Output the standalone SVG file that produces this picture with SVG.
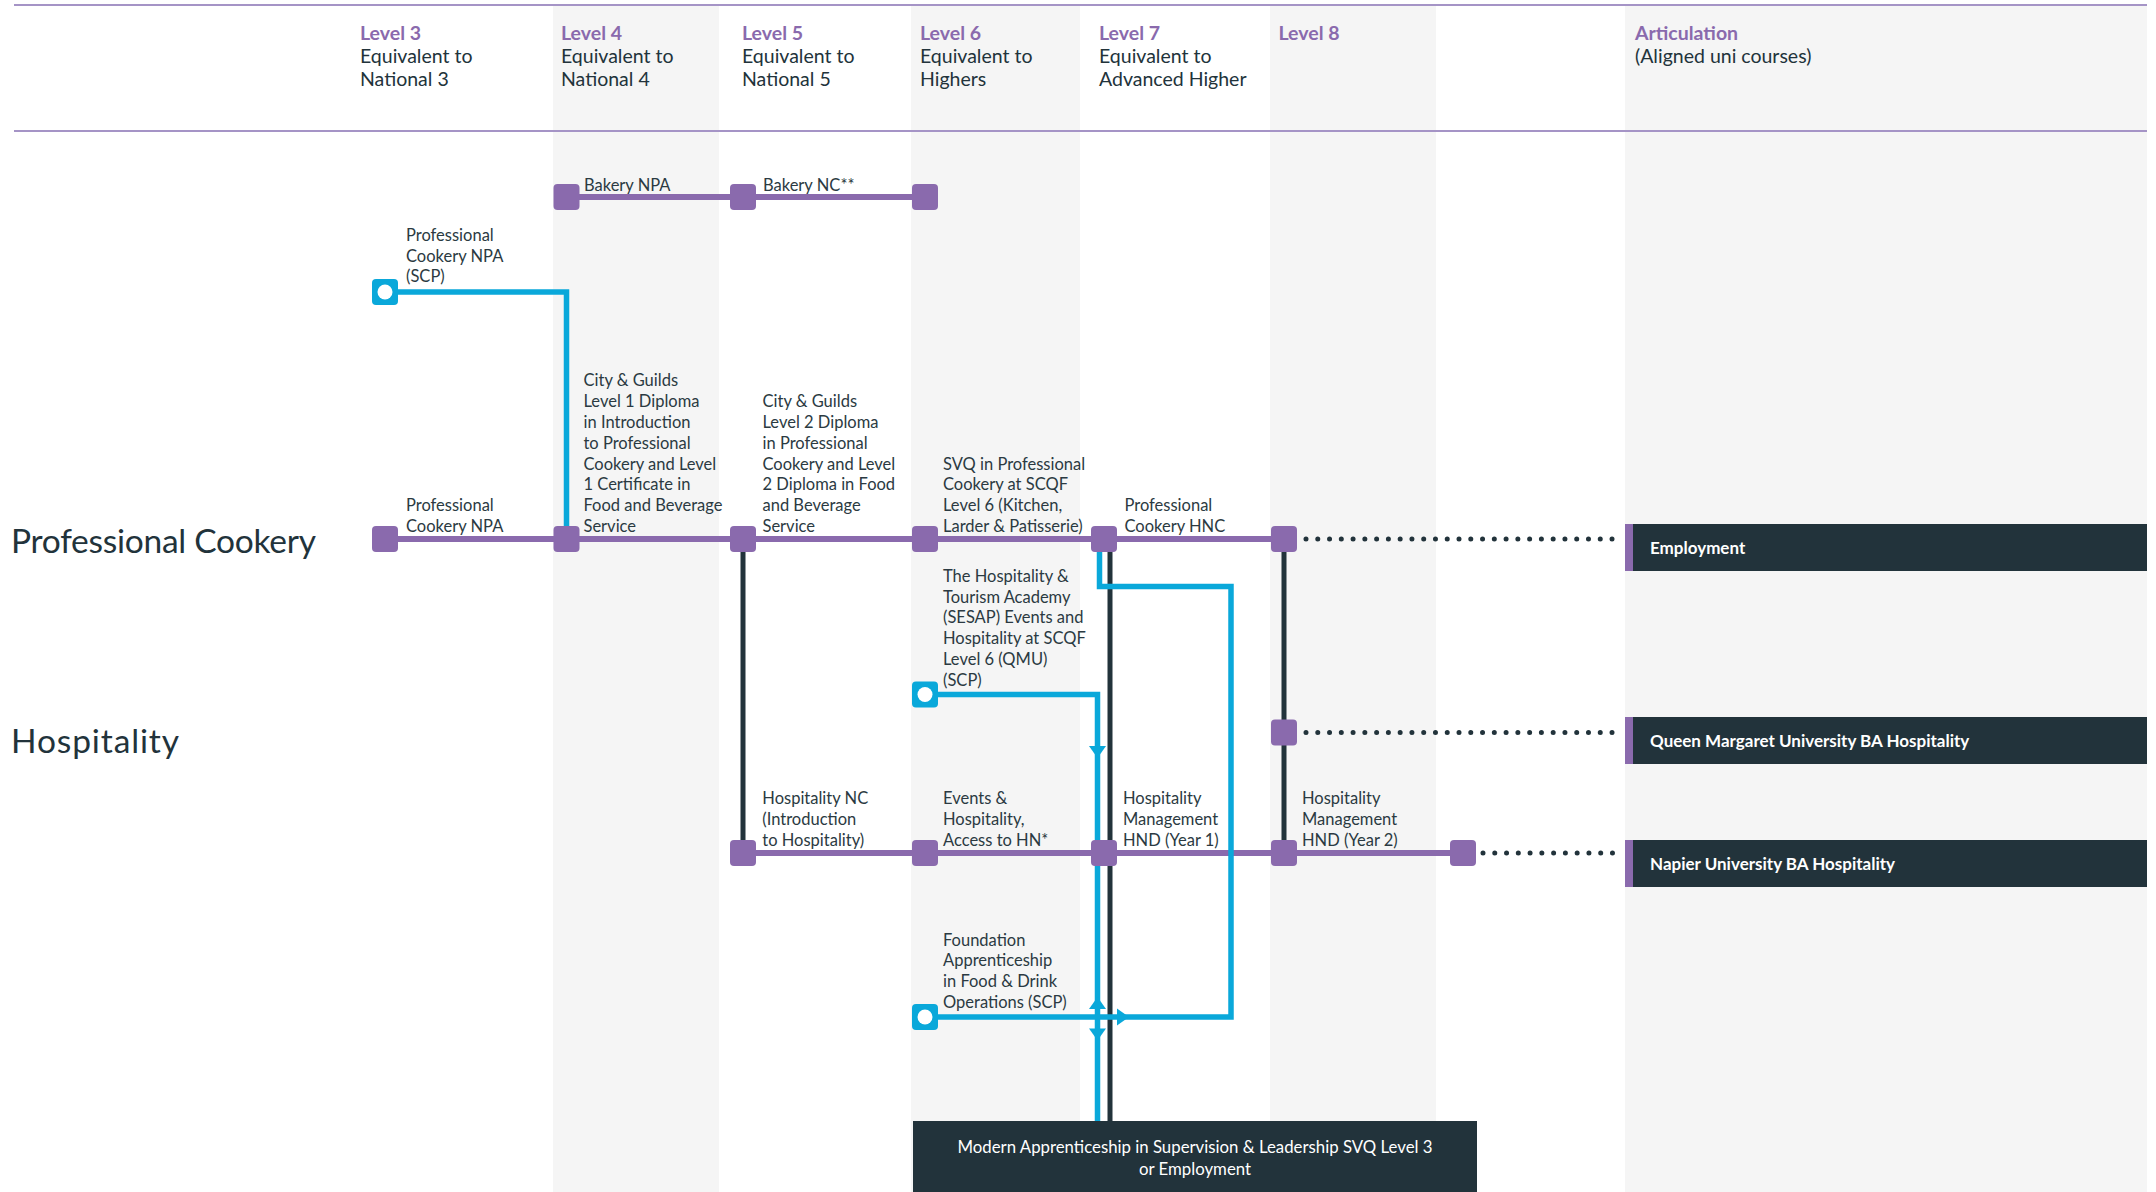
<svg xmlns="http://www.w3.org/2000/svg" xmlns:xlink="http://www.w3.org/1999/xlink" width="2156" height="1192" viewBox="0 0 2156 1192">
<style>
  text { font-family: Lato, "Liberation Sans", sans-serif; }
  .band { fill: #f5f5f5; }
  .rule { stroke: #a594c6; stroke-width: 2; fill: none; }
  .lvl { fill: #8a6aad; font-size: 19.5px; font-weight: 700; }
  .hdr { fill: #22333b; font-size: 19.5px; }
  .lbl { fill: #2b3a42; font-size: 16.5px; }
  .big { fill: #22333b; font-size: 33.5px; }
  .route { stroke: #8a6aad; stroke-width: 6; fill: none; }
  .bridge { stroke: #22333b; stroke-width: 5; fill: none; }
  .blue { stroke: #0aa8da; stroke-width: 5.5; fill: none; }
  .dots { stroke: #22333b; stroke-width: 5; stroke-linecap: round; stroke-dasharray: 0 11.77; fill: none; }
  .node { fill: #8a6aad; }
  .mk { fill: #0aa8da; }
  .hole { fill: #ffffff; }
  .box { fill: #22333b; }
  .bar { fill: #8a6aad; }
  .boxt { fill: #ffffff; font-size: 17px; font-weight: 700; }
  .mat { fill: #ffffff; font-size: 16.8px; }
  .arr { fill: #0aa8da; }
</style>
<defs>
  <rect id="n" class="node" x="-13" y="-13" width="26" height="26" rx="4"/>
  <g id="m"><rect class="mk" x="-13" y="-13" width="26" height="26" rx="4"/><circle class="hole" r="7.5"/></g>
  <path id="arrow" class="arr" d="M0,0 L-12,-8.5 L-12,8.5 Z"/>
</defs>

<rect width="2156" height="1192" fill="#ffffff"/>

<g id="bands">
  <rect class="band" x="553" y="5" width="166" height="1187"/>
  <rect class="band" x="911" y="5" width="169" height="1187"/>
  <rect class="band" x="1270" y="5" width="166" height="1187"/>
  <rect class="band" x="1625" y="5" width="522" height="1187"/>
</g>

<g id="header">
  <line class="rule" x1="14" y1="5" x2="2147" y2="5"/>
  <line class="rule" x1="14" y1="131" x2="2147" y2="131"/>
  <text class="lvl" x="360" y="39.5">Level 3</text>
  <text class="hdr" x="360" y="62.7">Equivalent to</text>
  <text class="hdr" x="360" y="85.7">National 3</text>
  <text class="lvl" x="561" y="39.5">Level 4</text>
  <text class="hdr" x="561" y="62.7">Equivalent to</text>
  <text class="hdr" x="561" y="85.7">National 4</text>
  <text class="lvl" x="742" y="39.5">Level 5</text>
  <text class="hdr" x="742" y="62.7">Equivalent to</text>
  <text class="hdr" x="742" y="85.7">National 5</text>
  <text class="lvl" x="920" y="39.5">Level 6</text>
  <text class="hdr" x="920" y="62.7">Equivalent to</text>
  <text class="hdr" x="920" y="85.7">Highers</text>
  <text class="lvl" x="1099" y="39.5">Level 7</text>
  <text class="hdr" x="1099" y="62.7">Equivalent to</text>
  <text class="hdr" x="1099" y="85.7">Advanced Higher</text>
  <text class="lvl" x="1278.5" y="39.5">Level 8</text>
  <text class="lvl" x="1635" y="39.5">Articulation</text>
  <text class="hdr" x="1635" y="62.7">(Aligned uni courses)</text>
</g>

<g id="row-labels">
  <text class="big" x="11" y="553" textLength="305">Professional Cookery</text>
  <text class="big" x="11" y="753" textLength="168">Hospitality</text>
</g>

<g id="connectors">
  <path class="bridge" d="M743,539 V853"/>
  <path class="bridge" d="M1110,539 V1121"/>
  <path class="bridge" d="M1284,539 V853"/>
  <path class="route" d="M566.5,197 H925"/>
  <path class="route" d="M385,539 H1284"/>
  <path class="route" d="M743,853 H1463"/>
  <path class="blue" d="M385,292 H566.5 V539"/>
  <path class="blue" d="M925,694.5 H1097.5 V1121"/>
  <path class="blue" d="M925,1017 H1231 V586.5 H1099.5 V539"/>
  <line class="dots" x1="1306" y1="539" x2="1612.5" y2="539"/>
  <line class="dots" x1="1306" y1="732.5" x2="1612.5" y2="732.5"/>
  <line class="dots" x1="1483" y1="853" x2="1612.5" y2="853"/>
  <use xlink:href="#arrow" transform="translate(1097.5,758) rotate(90)"/>
  <use xlink:href="#arrow" transform="translate(1097.5,997) rotate(-90)"/>
  <use xlink:href="#arrow" transform="translate(1097.5,1040.5) rotate(90)"/>
  <use xlink:href="#arrow" transform="translate(1129,1017)"/>
</g>

<g id="bakery-npa"><use xlink:href="#n" x="566.5" y="197"/><text class="lbl" x="584" y="191">Bakery NPA</text></g>
<g id="bakery-nc"><use xlink:href="#n" x="743" y="197"/><text class="lbl" x="763" y="191">Bakery NC**</text></g>
<g id="bakery-end"><use xlink:href="#n" x="925" y="197"/></g>

<g id="pc-npa-scp"><use xlink:href="#m" x="385" y="292"/>
  <text class="lbl" x="406" y="240.7">Professional</text>
  <text class="lbl" x="406" y="261.5">Cookery NPA</text>
  <text class="lbl" x="406" y="282.3">(SCP)</text>
</g>
<g id="pc-npa"><use xlink:href="#n" x="385" y="539"/>
  <text class="lbl" x="406" y="511.2">Professional</text>
  <text class="lbl" x="406" y="532">Cookery NPA</text>
</g>
<g id="cg-level1"><use xlink:href="#n" x="566.5" y="539"/>
  <text class="lbl" x="583.5" y="386.4">City &amp; Guilds</text>
  <text class="lbl" x="583.5" y="407.2">Level 1 Diploma</text>
  <text class="lbl" x="583.5" y="428">in Introduction</text>
  <text class="lbl" x="583.5" y="448.8">to Professional</text>
  <text class="lbl" x="583.5" y="469.6">Cookery and Level</text>
  <text class="lbl" x="583.5" y="490.4">1 Certificate in</text>
  <text class="lbl" x="583.5" y="511.2">Food and Beverage</text>
  <text class="lbl" x="583.5" y="532">Service</text>
</g>
<g id="cg-level2"><use xlink:href="#n" x="743" y="539"/>
  <text class="lbl" x="762.5" y="407.2">City &amp; Guilds</text>
  <text class="lbl" x="762.5" y="428">Level 2 Diploma</text>
  <text class="lbl" x="762.5" y="448.8">in Professional</text>
  <text class="lbl" x="762.5" y="469.6">Cookery and Level</text>
  <text class="lbl" x="762.5" y="490.4">2 Diploma in Food</text>
  <text class="lbl" x="762.5" y="511.2">and Beverage</text>
  <text class="lbl" x="762.5" y="532">Service</text>
</g>
<g id="svq"><use xlink:href="#n" x="925" y="539"/>
  <text class="lbl" x="943" y="469.6">SVQ in Professional</text>
  <text class="lbl" x="943" y="490.4">Cookery at SCQF</text>
  <text class="lbl" x="943" y="511.2">Level 6 (Kitchen,</text>
  <text class="lbl" x="943" y="532">Larder &amp; Patisserie)</text>
</g>
<g id="pc-hnc"><use xlink:href="#n" x="1104" y="539"/>
  <text class="lbl" x="1124.5" y="511.2">Professional</text>
  <text class="lbl" x="1124.5" y="532">Cookery HNC</text>
</g>
<g id="l8-pc"><use xlink:href="#n" x="1284" y="539"/></g>

<g id="sesap"><use xlink:href="#m" x="925" y="694.5"/>
  <text class="lbl" x="943" y="581.7">The Hospitality &amp;</text>
  <text class="lbl" x="943" y="602.5">Tourism Academy</text>
  <text class="lbl" x="943" y="623.3">(SESAP) Events and</text>
  <text class="lbl" x="943" y="644.1">Hospitality at SCQF</text>
  <text class="lbl" x="943" y="664.9">Level 6 (QMU)</text>
  <text class="lbl" x="943" y="685.7">(SCP)</text>
</g>
<g id="l8-qmu"><use xlink:href="#n" x="1284" y="732.5"/></g>

<g id="hosp-nc"><use xlink:href="#n" x="743" y="853"/>
  <text class="lbl" x="762.3" y="804.4">Hospitality NC</text>
  <text class="lbl" x="762.3" y="825.2">(Introduction</text>
  <text class="lbl" x="762.3" y="846">to Hospitality)</text>
</g>
<g id="events-hosp"><use xlink:href="#n" x="925" y="853"/>
  <text class="lbl" x="943" y="804.4">Events &amp;</text>
  <text class="lbl" x="943" y="825.2">Hospitality,</text>
  <text class="lbl" x="943" y="846">Access to HN*</text>
</g>
<g id="hnd-1"><use xlink:href="#n" x="1104" y="853"/>
  <text class="lbl" x="1123" y="804.4">Hospitality</text>
  <text class="lbl" x="1123" y="825.2">Management</text>
  <text class="lbl" x="1123" y="846">HND (Year 1)</text>
</g>
<g id="hnd-2"><use xlink:href="#n" x="1284" y="853"/>
  <text class="lbl" x="1302" y="804.4">Hospitality</text>
  <text class="lbl" x="1302" y="825.2">Management</text>
  <text class="lbl" x="1302" y="846">HND (Year 2)</text>
</g>
<g id="hosp-end"><use xlink:href="#n" x="1463" y="853"/></g>

<g id="foundation"><use xlink:href="#m" x="925" y="1017"/>
  <text class="lbl" x="943" y="945.6">Foundation</text>
  <text class="lbl" x="943" y="966.4">Apprenticeship</text>
  <text class="lbl" x="943" y="987.2">in Food &amp; Drink</text>
  <text class="lbl" x="943" y="1008">Operations (SCP)</text>
</g>

<g id="employment">
  <rect class="box" x="1625" y="524" width="522" height="47"/>
  <rect class="bar" x="1625" y="524" width="8" height="47"/>
  <text class="boxt" x="1650" y="554">Employment</text>
</g>
<g id="qmu">
  <rect class="box" x="1625" y="717" width="522" height="47"/>
  <rect class="bar" x="1625" y="717" width="8" height="47"/>
  <text class="boxt" x="1650" y="747">Queen Margaret University BA Hospitality</text>
</g>
<g id="napier">
  <rect class="box" x="1625" y="840" width="522" height="47"/>
  <rect class="bar" x="1625" y="840" width="8" height="47"/>
  <text class="boxt" x="1650" y="870">Napier University BA Hospitality</text>
</g>
<g id="modern-apprenticeship">
  <rect class="box" x="913" y="1121" width="564" height="71"/>
  <text class="mat" x="1195" y="1153" text-anchor="middle">Modern Apprenticeship in Supervision &amp; Leadership SVQ Level 3</text>
  <text class="mat" x="1195" y="1175" text-anchor="middle">or Employment</text>
</g>
</svg>
